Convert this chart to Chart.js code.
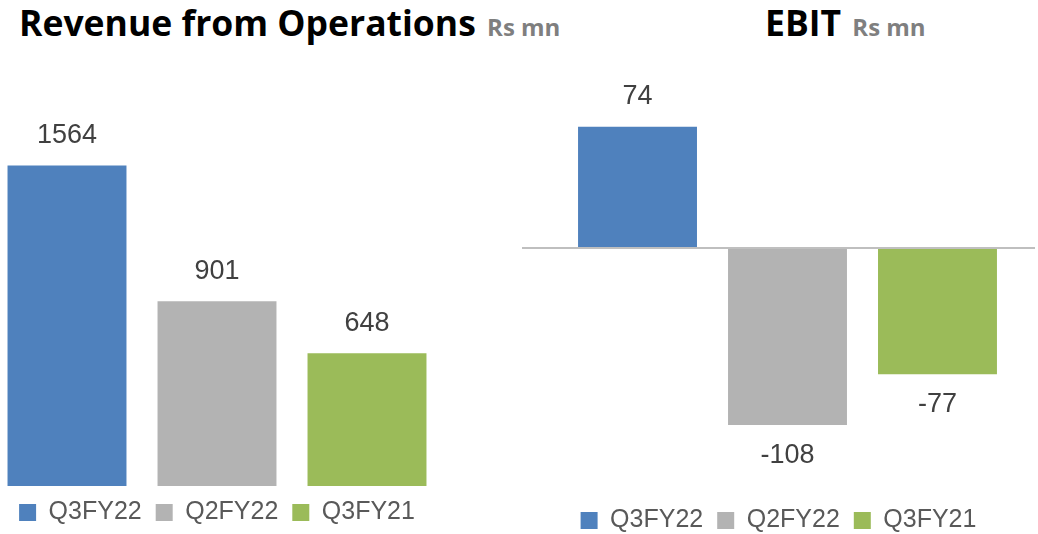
<!DOCTYPE html>
<html>
<head>
<meta charset="utf-8">
<script src="https://cdn.jsdelivr.net/npm/chart.js@4/dist/chart.umd.min.js"></script>
<style>
    html, body { margin: 0; padding: 0; background: #fff; overflow: hidden; width: 1038px; height: 534px; }
    .title { position: absolute; top: 0; font-family: "Open Sans", "Liberation Sans", sans-serif; font-weight: bold; white-space: nowrap; color: #000; }
    .title .unit { color: #7f7f7f; font-size: 24px; margin-left: 2px; }
    canvas { position: absolute; }
</style>
</head>
<body>
<div class="title" id="revTitle" style="left:19px; font-size:35.5px; line-height:44px;">Revenue from Operations <span class="unit">Rs mn</span></div>
<div class="title" id="ebitTitle" style="left:765px; font-size:35.5px; line-height:44px;">EBIT <span class="unit">Rs mn</span></div>
<canvas id="revenueChart" width="450" height="535" style="left:-8px; top:0;"></canvas>
<canvas id="ebitChart" width="513" height="543" style="left:522px; top:0;"></canvas>
<script>
const periods = ['Q3FY22', 'Q2FY22', 'Q3FY21'];
const revenue = [1564, 901, 648];
const ebit = [74, -108, -77];
const colors = ['#4F81BD', '#B3B3B3', '#9BBB59'];

// value labels above / below each bar
const valueLabels = {
    id: 'valueLabels',
    afterDatasetsDraw(chart) {
        const ctx = chart.ctx;
        ctx.save();
        ctx.font = '27px "Liberation Sans", Arial, sans-serif';
        ctx.fillStyle = '#404040';
        ctx.textAlign = 'center';
        ctx.textBaseline = 'middle';
        chart.data.datasets.forEach((ds, i) => {
            const meta = chart.getDatasetMeta(i);
            meta.data.forEach((bar, j) => {
                const v = ds.data[j];
                const y = v >= 0 ? bar.y - 30 : bar.y + 30;
                ctx.fillText(String(v), bar.x, y);
            });
        });
        ctx.restore();
    }
};

function buildDatasets(values) {
    return periods.map((p, i) => ({
        label: p,
        data: [values[i]],
        backgroundColor: colors[i],
        borderWidth: 0
    }));
}

const legendOpts = {
    position: 'bottom',
    labels: {
        boxWidth: 17,
        boxHeight: 17,
        padding: 14,
        color: '#595959',
        font: { family: '"Liberation Sans", Arial, sans-serif', size: 25 }
    }
};

new Chart(document.getElementById('revenueChart'), {
    type: 'bar',
    data: { labels: [''], datasets: buildDatasets(revenue) },
    options: {
        responsive: false,
        animation: false,
        layout: { padding: { top: 76, bottom: 0, left: 0, right: 0 } },
        datasets: { bar: { categoryPercentage: 1.0, barPercentage: 0.793 } },
        scales: {
            x: { display: false },
            y: { display: false, min: 0, max: 2000 }
        },
        plugins: { legend: legendOpts, tooltip: { enabled: false } }
    },
    plugins: [valueLabels]
});

new Chart(document.getElementById('ebitChart'), {
    type: 'bar',
    data: { labels: [''], datasets: buildDatasets(ebit) },
    options: {
        responsive: false,
        animation: false,
        layout: { padding: { top: 84, bottom: 0, left: 0, right: 0 } },
        datasets: { bar: { categoryPercentage: 0.909, barPercentage: 0.793 } },
        scales: {
            x: { display: false },
            y: {
                min: -150,
                max: 100,
                afterBuildTicks: (scale) => { scale.ticks = [{ value: 0 }]; },
                ticks: { display: false },
                border: { display: false },
                grid: { color: '#BFBFBF', lineWidth: 2, tickLength: 18, drawTicks: true }
            }
        },
        plugins: { legend: legendOpts, tooltip: { enabled: false } }
    },
    plugins: [valueLabels]
});
</script>
</body>
</html>
